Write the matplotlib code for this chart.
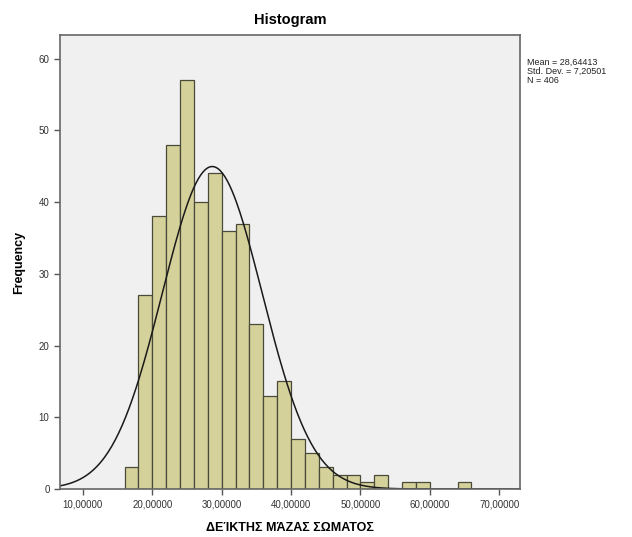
import numpy as np
import matplotlib
matplotlib.use('Agg')
from matplotlib import pyplot as plt

plt.rcParams['font.family'] = ['Liberation Sans', 'DejaVu Sans']

# BMI histogram: bins of width 2 starting at 16
bin_start = 16
bin_width = 2
counts = [3, 27, 38, 48, 57, 40, 44, 36, 37, 23, 13, 15, 7, 5,
          3, 2, 2, 1, 2, 0, 1, 1, 0, 0, 1]
mean = 28.64413
std_dev = 7.20501
n = 406
x_ticks = [10, 20, 30, 40, 50, 60, 70]
y_ticks = [0, 10, 20, 30, 40, 50, 60]

edges = bin_start + bin_width * np.arange(len(counts) + 1)

fig = plt.figure(figsize=(6.32, 5.37), dpi=100)
ax = fig.add_axes([0.0949, 0.0894, 0.7279, 0.8454])
ax.set_facecolor('#f0f0f0')

ax.bar(edges[:-1], counts, width=bin_width, align='edge',
       color='#d5d19b', edgecolor='#4a4a3a', linewidth=0.9)

# fitted normal curve scaled to counts
xs = np.linspace(6.7, 73.0, 400)
pdf = np.exp(-0.5 * ((xs - mean) / std_dev) ** 2) / (std_dev * np.sqrt(2 * np.pi))
ax.plot(xs, n * bin_width * pdf, color='#1a1a1a', linewidth=1.1)

ax.set_xlim(6.7, 73.0)
ax.set_ylim(0, 63.3)
ax.set_xticks(x_ticks)
ax.set_xticklabels(['{:.5f}'.format(v).replace('.', ',') for v in x_ticks])
ax.set_yticks(y_ticks)
ax.tick_params(direction='out', length=4, width=1.0, colors='#555555',
               labelsize=7, labelcolor='#333333')
for s in ax.spines.values():
    s.set_color('#666666')
    s.set_linewidth(1.2)

ax.set_title('Histogram', fontsize=10.5, fontweight='bold', pad=8)
ax.set_ylabel('Frequency', fontsize=9, fontweight='bold', labelpad=10)
ax.set_xlabel('ΔΕΊΚΤΗΣ ΜΆΖΑΣ ΣΩΜΑΤΟΣ', fontsize=9, fontweight='bold', labelpad=9)

fig.text(527 / 632, 1 - 58 / 537,
         'Mean = {}\nStd. Dev. = {}\nN = {}'.format(
             '{:.5f}'.format(mean).replace('.', ','),
             '{:.5f}'.format(std_dev).replace('.', ','), n),
         fontsize=6.5, va='top', ha='left', linespacing=1.0, color='#222222')

fig.savefig('out.png', dpi=100, facecolor='white')
